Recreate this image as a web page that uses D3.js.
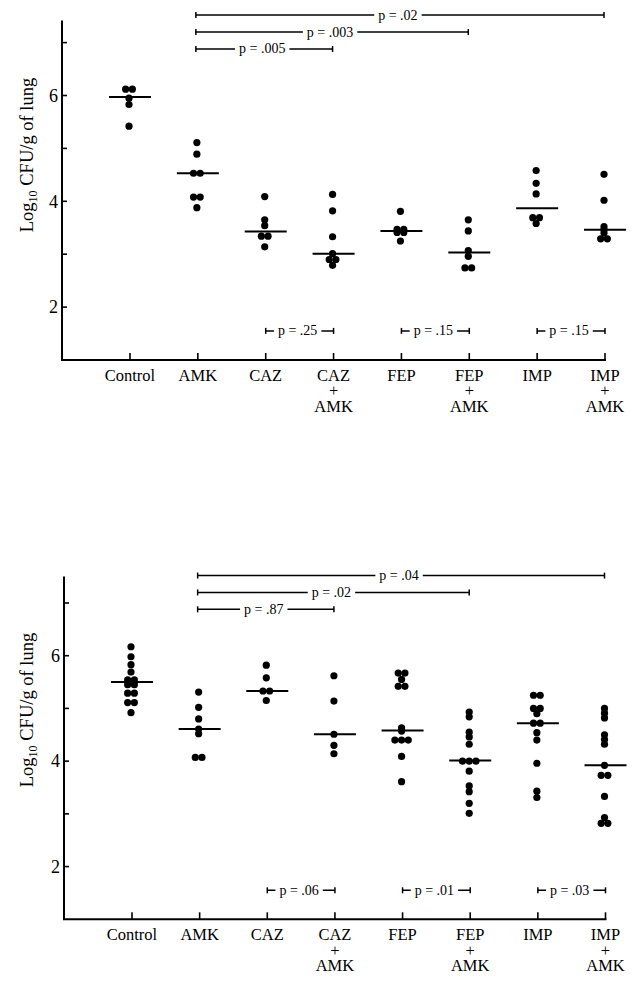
<!DOCTYPE html>
<html>
<head>
<meta charset="utf-8">
<script src="https://cdn.jsdelivr.net/npm/d3@7"></script>
<style>
  html, body { margin: 0; padding: 0; background: #fff; }
  svg { display: block; font-family: "Liberation Serif", "Times New Roman", serif; }
</style>
</head>
<body>
<svg id="chart" width="640" height="984"></svg>
<script>
// ---------- DATA ----------
const categories = ["Control", "AMK", "CAZ", "CAZ+AMK", "FEP", "FEP+AMK", "IMP", "IMP+AMK"];
const categoryLines = [["Control"], ["AMK"], ["CAZ"], ["CAZ", "+", "AMK"], ["FEP"], ["FEP", "+", "AMK"], ["IMP"], ["IMP", "+", "AMK"]];
const yTickValues = [2, 4, 6];
const yMinorTickValues = [3, 5, 7];

const topValues = [
  [6.12, 6.12, 5.95, 5.83, 5.42],
  [5.11, 4.89, 4.53, 4.53, 4.08, 4.08, 3.88],
  [4.09, 3.65, 3.54, 3.34, 3.34, 3.14],
  [4.13, 3.82, 3.33, 3.01, 2.90, 2.90, 2.79],
  [3.81, 3.47, 3.47, 3.41, 3.41, 3.25],
  [3.65, 3.44, 3.07, 2.96, 2.74, 2.74],
  [4.58, 4.34, 4.14, 3.69, 3.69, 3.58],
  [4.51, 4.02, 3.52, 3.46, 3.40, 3.29, 3.29]
];
const topMedians = [5.97, 4.53, 3.43, 3.01, 3.44, 3.03, 3.87, 3.46];

const bottomValues = [
  [6.17, 5.98, 5.83, 5.69, 5.54, 5.54, 5.45, 5.45, 5.29, 5.29, 5.11, 5.11, 4.92],
  [5.31, 5.02, 4.80, 4.61, 4.52, 4.07, 4.07],
  [5.82, 5.58, 5.33, 5.33, 5.15],
  [5.62, 5.14, 4.51, 4.30, 4.14],
  [5.67, 5.67, 5.55, 5.42, 5.42, 4.63, 4.57, 4.40, 4.40, 4.40, 4.09, 3.61],
  [4.93, 4.84, 4.55, 4.46, 4.32, 4.00, 4.00, 4.00, 3.81, 3.53, 3.42, 3.20, 3.01],
  [5.25, 5.25, 5.00, 5.00, 4.90, 4.72, 4.72, 4.54, 4.40, 3.96, 3.43, 3.31],
  [5.00, 4.91, 4.82, 4.50, 4.41, 4.32, 3.92, 3.73, 3.73, 3.33, 2.93, 2.82, 2.82]
];
const bottomMedians = [5.50, 4.61, 5.33, 4.51, 4.58, 4.01, 4.72, 3.92];

// long comparisons: all start at AMK
const longFrom = "AMK";
const longTargets = ["IMP+AMK", "FEP+AMK", "CAZ+AMK"];
const longLevels = [7.52, 7.20, 6.88];
const topLongLabels = ["p = .02", "p = .003", "p = .005"];
const bottomLongLabels = ["p = .04", "p = .02", "p = .87"];

// short comparisons (single drug vs combination)
const shortPairs = [["CAZ", "CAZ+AMK"], ["FEP", "FEP+AMK"], ["IMP", "IMP+AMK"]];
const shortLevel = 1.55;
const topShortLabels = ["p = .25", "p = .15", "p = .15"];
const bottomShortLabels = ["p = .06", "p = .01", "p = .03"];

const yLabelMain = "Log";
const yLabelSub = "10";
const yLabelRest = " CFU/g of lung";

// ---------- DRAW ----------
const svg = d3.select("#chart");

const panels = [
  { values: topValues, medians: topMedians, longLabels: topLongLabels, shortLabels: topShortLabels,
    axisX: 62, xFirst: 130, xLast: 605, y1: 360, y6: 95.5, yTop: 7.42, labelY: 155 },
  { values: bottomValues, medians: bottomMedians, longLabels: bottomLongLabels, shortLabels: bottomShortLabels,
    axisX: 64, xFirst: 132, xLast: 605.5, y1: 919.3, y6: 655.7, yTop: 7.5, labelY: 710 }
];

panels.forEach(p => {
  const g = svg.append("g");
  const x = d3.scalePoint().domain(categories).range([p.xFirst, p.xLast]);
  const y = d3.scaleLinear().domain([1, 6]).range([p.y1, p.y6]);

  // y axis line
  g.append("line").attr("x1", p.axisX).attr("x2", p.axisX)
    .attr("y1", y(p.yTop)).attr("y2", y(1))
    .attr("stroke", "#000").attr("stroke-width", 2);
  // x axis line
  g.append("line").attr("x1", p.axisX - 1).attr("x2", x(categories[categories.length - 1]) + 1)
    .attr("y1", y(1)).attr("y2", y(1))
    .attr("stroke", "#000").attr("stroke-width", 2);

  // y ticks (inward)
  const allTicks = yTickValues.concat(yMinorTickValues);
  g.selectAll(".yt").data(allTicks).join("line")
    .attr("x1", p.axisX).attr("x2", p.axisX + 5)
    .attr("y1", d => y(d)).attr("y2", d => y(d))
    .attr("stroke", "#000").attr("stroke-width", 1.6);
  g.selectAll(".yl").data(yTickValues).join("text")
    .attr("x", p.axisX - 4).attr("y", d => y(d))
    .attr("dy", "0.35em")
    .attr("text-anchor", "end")
    .attr("font-size", 18)
    .text(d => d);

  // x ticks (upward)
  g.selectAll(".xt").data(categories).join("line")
    .attr("x1", d => x(d)).attr("x2", d => x(d))
    .attr("y1", y(1)).attr("y2", y(1) - 7)
    .attr("stroke", "#000").attr("stroke-width", 1.6);

  // x labels
  categories.forEach((c, i) => {
    const t = g.append("text")
      .attr("text-anchor", "middle")
      .attr("font-size", 16.5);
    categoryLines[i].forEach((ln, k) => {
      t.append("tspan").attr("x", x(c)).attr("y", y(1) + 20.5 + k * 15.7).text(ln);
    });
  });

  // y label
  const yl = g.append("text")
    .attr("transform", `translate(33,${p.labelY}) rotate(-90)`)
    .attr("text-anchor", "middle")
    .attr("font-size", 18.5);
  yl.append("tspan").text(yLabelMain);
  yl.append("tspan").attr("font-size", 12).attr("dy", 4).text(yLabelSub);
  yl.append("tspan").attr("dy", -4).text(yLabelRest);

  // dots
  const r = 3.6;
  p.values.forEach((vals, i) => {
    const cx = x(categories[i]);
    const counts = d3.rollup(vals, v => v.length, v => v);
    const seen = new Map();
    vals.forEach(v => {
      const n = counts.get(v);
      const k = seen.get(v) || 0;
      seen.set(v, k + 1);
      const off = (k - (n - 1) / 2) * (2 * r - 0.5);
      g.append("circle").attr("cx", cx + off - 1).attr("cy", y(v)).attr("r", r).attr("fill", "#000");
    });
    // median line
    g.append("line")
      .attr("x1", cx - 21).attr("x2", cx + 21)
      .attr("y1", y(p.medians[i])).attr("y2", y(p.medians[i]))
      .attr("stroke", "#000").attr("stroke-width", 2);
  });

  // comparison bars
  function bar(x1, x2, yy, label, fs, capH) {
    g.append("line").attr("x1", x1).attr("x2", x2).attr("y1", yy).attr("y2", yy)
      .attr("stroke", "#000").attr("stroke-width", 1.5);
    [x1, x2].forEach(xx => g.append("line").attr("x1", xx).attr("x2", xx)
      .attr("y1", yy - capH).attr("y2", yy + capH).attr("stroke", "#000").attr("stroke-width", 1.5));
    const tx = (x1 + x2) / 2 - 2;
    const t = g.append("text").attr("x", tx).attr("y", yy).attr("dy", "0.32em")
      .attr("text-anchor", "middle").attr("font-size", fs).text(label);
    const bb = t.node().getBBox();
    g.insert("rect", "text:last-of-type")
      .attr("x", bb.x - 4).attr("y", yy - 3).attr("width", bb.width + 8).attr("height", 6)
      .attr("fill", "#fff");
    t.raise();
  }
  longTargets.forEach((tg, i) => {
    bar(x(longFrom) - 2, x(tg) - 1, y(longLevels[i]), p.longLabels[i], 14, 3);
  });
  shortPairs.forEach((pr, i) => {
    bar(x(pr[0]), x(pr[1]), y(shortLevel), p.shortLabels[i], 14, 3);
  });
});
</script>
</body>
</html>
